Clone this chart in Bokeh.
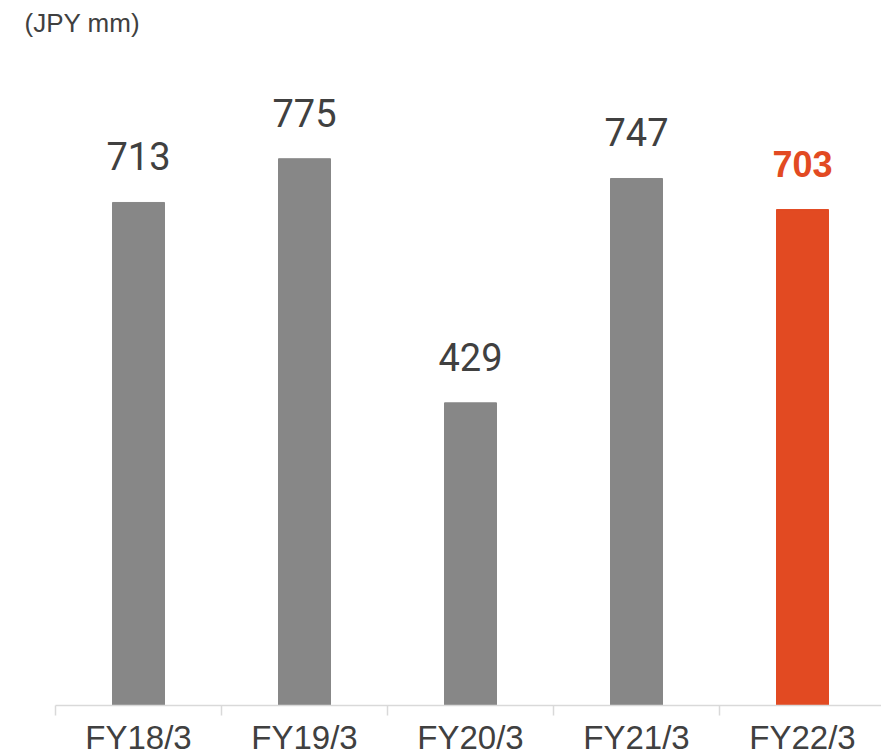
from bokeh.plotting import figure
from bokeh.models import ColumnDataSource, Range1d, FixedTicker
from bokeh.embed import file_html
from bokeh.resources import INLINE

# Net income by fiscal year (JPY mm)
categories = ["FY18/3", "FY19/3", "FY20/3", "FY21/3", "FY22/3"]
values = [713, 775, 429, 747, 703]
highlight = [False, False, False, False, True]
unit_label = "(JPY mm)"

GRAY = "#878787"
ORANGE = "#E24A22"
TEXT = "#404040"

PX_PER_UNIT = 0.7055     # vertical scale of the bars
CAT_W = 166              # pixels per category
FRAME_W = 826
TOP_BORDER = 37          # space above the frame, holding the unit title
FRAME_H = 705 - TOP_BORDER

xs = list(range(len(categories)))
src = ColumnDataSource(dict(
    x=xs,
    top=values,
    label=[str(v) for v in values],
    color=[ORANGE if h else GRAY for h in highlight],
    tcolor=[ORANGE if h else TEXT for h in highlight],
    font=["Liberation Sans" if h else "Roboto" for h in highlight],
    fsize=["36px" if h else "38px" for h in highlight],
    fstyle=["bold" if h else "normal" for h in highlight],
))

p = figure(
    frame_width=FRAME_W, frame_height=FRAME_H,
    x_range=Range1d(-0.5, -0.5 + FRAME_W / CAT_W),
    y_range=Range1d(0, FRAME_H / PX_PER_UNIT),
    output_backend="svg", toolbar_location=None,
    min_border_left=55, min_border_right=0, min_border_top=TOP_BORDER, min_border_bottom=0,
)
p.outline_line_color = None
p.xgrid.visible = False
p.ygrid.visible = False
p.yaxis.visible = False
p.background_fill_color = "white"
p.border_fill_color = "white"

p.title.text = unit_label
p.title.align = "left"
p.title.offset = -31
p.title.text_font = "Liberation Sans"
p.title.text_font_size = "26px"
p.title.text_font_style = "normal"
p.title.text_color = TEXT
p.title.standoff = 0

p.vbar(x="x", top="top", width=52 / CAT_W, bottom=0, color="color", source=src)

p.text(x="x", y="top", text="label", source=src,
       text_font="font", text_font_size="fsize", text_font_style="fstyle",
       text_color="tcolor", text_align="center", text_baseline="alphabetic",
       y_offset=-46)

ax = p.xaxis[0]
ax.ticker = FixedTicker(ticks=xs, minor_ticks=[i - 0.5 for i in range(len(categories) + 1)])
ax.major_label_overrides = {i: c for i, c in enumerate(categories)}
ax.axis_line_color = "#D9D9D9"
ax.axis_line_width = 1.5
ax.major_tick_line_color = None
ax.major_tick_out = 0
ax.major_tick_in = 0
ax.minor_tick_line_color = "#D9D9D9"
ax.minor_tick_line_width = 1.5
ax.minor_tick_out = 10
ax.minor_tick_in = 0
ax.major_label_standoff = 3
ax.major_label_text_font = "Liberation Sans"
ax.major_label_text_font_size = "33px"
ax.major_label_text_color = TEXT

open("out.html", "w").write(file_html(p, INLINE))
